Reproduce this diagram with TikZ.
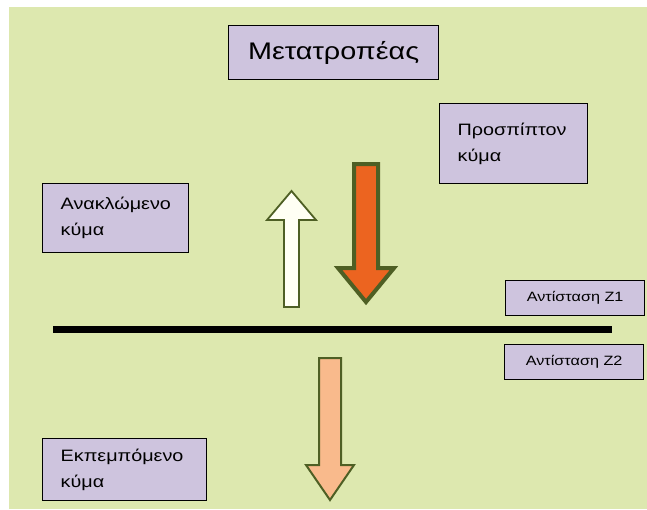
\documentclass[tikz,border=0pt]{standalone}
\usepackage{fontspec}
\setmainfont[FakeStretch=1.2]{Liberation Sans}
\usetikzlibrary{positioning}

\definecolor{bggreen}{HTML}{DDE8AF}
\definecolor{boxlav}{HTML}{CEC4DE}
\definecolor{arrowgreen}{HTML}{4E5F24}
\definecolor{hotorange}{HTML}{EC6420}
\definecolor{paleorange}{HTML}{F9BA8C}
\definecolor{offwhite}{HTML}{FFFFF4}

\tikzset{
  labelbox/.style={draw=black, line width=1.3pt, fill=boxlav, anchor=north west},
  wavebox/.style={labelbox, font=\fontsize{16.5}{26}\selectfont, align=left,
    inner xsep=18pt, inner ysep=2pt},
  zbox/.style={labelbox, font=\fontsize{13.5}{16}\selectfont,
    minimum width=139pt, minimum height=35pt, inner sep=0pt},
  waveshape/.style={draw=arrowgreen, line join=miter}
}

\begin{document}
\begin{tikzpicture}[x=1pt,y=-1pt]
  \useasboundingbox (0,0) rectangle (647,509);
  \fill[white] (0,0) rectangle (647,509);
  \fill[bggreen] (9,7) rectangle (647,509);

  % transducer on top
  \node[labelbox, font=\fontsize{24}{28}\selectfont, minimum width=210pt,
    minimum height=54pt, inner sep=0pt] (transducer) at (228,25) {Μετατροπέας};

  % the three waves
  \node[wavebox, text width=112pt, minimum height=80pt] (incident) at (439,103)
    {Προσπίπτον\\κύμα};
  \node[wavebox, text width=110pt, minimum height=69pt] (reflected) at (42,183)
    {Ανακλώμενο\\κύμα};
  \node[wavebox, text width=128pt, minimum height=62pt] (transmitted) at (42,438)
    {Εκπεμπόμενο\\κύμα};

  % the two impedances
  \node[zbox] (zone) at (505,280) {Αντίσταση Z1};
  \node[zbox] (ztwo) at (504,344) {Αντίσταση Z2};

  % boundary
  \draw[line width=7pt] (53,329) -- (612,329);

  % arrows
  \draw[waveshape, line width=1.8pt, fill=offwhite]
    (284,307) -- (284,220) -- (267,220) -- (291.5,191) -- (316,220)
    -- (299,220) -- (299,307) -- cycle;
  \draw[waveshape, line width=4pt, fill=hotorange]
    (354,164) -- (378,164) -- (378,268) -- (394,268) -- (366,302)
    -- (338,268) -- (354,268) -- cycle;
  \draw[waveshape, line width=2pt, fill=paleorange]
    (319,358) -- (341,358) -- (341,465) -- (354,465) -- (330,500)
    -- (306,465) -- (319,465) -- cycle;
\end{tikzpicture}
\end{document}
